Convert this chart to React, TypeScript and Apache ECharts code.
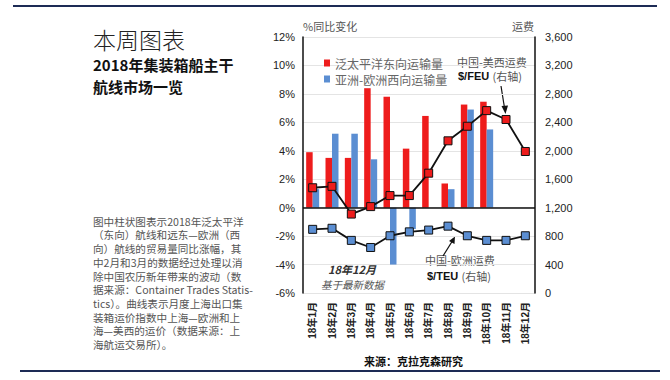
import React, { useEffect, useRef } from "react";
import * as echarts from "echarts";

const months = ["18年1月", "18年2月", "18年3月", "18年4月", "18年5月", "18年6月", "18年7月", "18年8月", "18年9月", "18年10月", "18年11月", "18年12月"];
const transPacific = [3.9, 3.5, 3.5, 8.4, 7.8, 4.15, 6.45, 1.7, 7.25, 7.45, null, null];
const asiaEurope = [1.3, 5.2, 5.2, 3.4, -4.0, -1.5, null, 1.3, 6.9, 5.5, null, null];
const feuRate = [1480, 1500, 1110, 1215, 1370, 1370, 1685, 2140, 2345, 2565, 2440, 1990];
const teuRate = [895, 910, 740, 640, 805, 860, 885, 940, 805, 740, 740, 805];

const leftTicks = { min: -6, max: 12, interval: 2 };
const rightTicks = { min: 0, max: 3600, interval: 400 };

const paragraph = [
  "图中柱状图表示2018年泛太平洋",
  "（东向）航线和远东—欧洲（西",
  "向）航线的贸易量同比涨幅，其",
  "中2月和3月的数据经过处理以消",
  "除中国农历新年带来的波动（数",
  "据来源：Container Trades Statis-",
  "tics）。曲线表示月度上海出口集",
  "装箱运价指数中上海—欧洲和上",
  "海—美西的运价（数据来源：上",
  "海航运交易所）。",
];

const RED = "#ee1c1c";
const BLUE = "#5b8ed2";
const SANS = "'Liberation Sans', Arial, 'Noto Sans CJK SC', sans-serif";
const CJK = "'Noto Sans CJK SC', sans-serif";

export default function App() {
  const ref = useRef<HTMLDivElement>(null);
  useEffect(() => {
    document.body.style.margin = "0";
    const chart = echarts.init(ref.current!, null, { renderer: "svg" });
    const paraTexts = paragraph.map((line, i) => ({
      type: "text",
      left: 93,
      top: 215 + i * 13.7,
      style: { text: line, fontSize: 10.6, lineHeight: 12.5, fill: "#555", fontFamily: CJK },
    }));
    const option: any = {
      animation: false,
      backgroundColor: "#ffffff",
      grid: { left: 303, right: 135, top: 37, bottom: 87 },
      legend: {
        orient: "vertical",
        left: 319,
        top: 52,
        itemWidth: 6,
        itemHeight: 7,
        itemGap: 4,
        icon: "rect",
        data: ["泛太平洋东向运输量", "亚洲-欧洲西向运输量"],
        textStyle: { fontSize: 12, color: "#666", fontFamily: CJK },
      },
      xAxis: {
        type: "category",
        data: months,
        axisLine: { show: false },
        axisTick: { show: false },
        axisLabel: {
          rotate: 90,
          fontSize: 10,
          fontWeight: "bold",
          color: "#222",
          fontFamily: SANS,
          margin: 9,
        },
      },
      yAxis: [
        {
          type: "value",
          ...leftTicks,
          axisLine: { show: true, lineStyle: { color: "#111", width: 1.5 } },
          axisTick: { show: false },
          axisLabel: { formatter: "{value}%", fontSize: 11, color: "#222", fontFamily: SANS, margin: 8 },
          splitLine: { show: true, lineStyle: { color: "#e4e4e4", width: 1 } },
        },
        {
          type: "value",
          ...rightTicks,
          axisLine: { show: true, lineStyle: { color: "#111", width: 1.5 } },
          axisTick: { show: false },
          axisLabel: {
            formatter: (v: number) => v.toLocaleString("en-US"),
            fontSize: 11,
            color: "#222",
            fontFamily: SANS,
            margin: 10,
          },
          splitLine: { show: false },
        },
      ],
      series: [
        {
          name: "泛太平洋东向运输量",
          type: "bar",
          yAxisIndex: 0,
          data: transPacific,
          barWidth: 6.5,
          barGap: "0%",
          itemStyle: { color: RED },
          markLine: {
            silent: true,
            symbol: "none",
            label: { show: false },
            lineStyle: { color: "#111", width: 1.5, type: "solid" },
            data: [{ yAxis: 0 }],
          },
        },
        {
          name: "亚洲-欧洲西向运输量",
          type: "bar",
          yAxisIndex: 0,
          data: asiaEurope,
          barWidth: 6.5,
          barGap: "0%",
          itemStyle: { color: BLUE },
        },
        {
          name: "中国-美西运费",
          type: "line",
          yAxisIndex: 1,
          data: feuRate,
          symbol: "rect",
          symbolSize: 8,
          z: 5,
          lineStyle: { color: "#111", width: 1.8 },
          itemStyle: { color: RED, borderColor: "#111", borderWidth: 1 },
        },
        {
          name: "中国-欧洲运费",
          type: "line",
          yAxisIndex: 1,
          data: teuRate,
          symbol: "rect",
          symbolSize: 8,
          z: 5,
          lineStyle: { color: "#111", width: 1.8 },
          itemStyle: { color: BLUE, borderColor: "#111", borderWidth: 1 },
        },
      ],
      graphic: [
        { type: "line", shape: { x1: 13, y1: 6, x2: 657, y2: 6 }, style: { stroke: "#1d2b55", lineWidth: 2 } },
        { type: "line", shape: { x1: 20, y1: 371, x2: 660, y2: 371 }, style: { stroke: "#1d2b55", lineWidth: 2 } },
        {
          type: "text", left: 93, top: 27,
          style: { text: "本周图表", fontSize: 23, fill: "#222", fontFamily: CJK, fontWeight: 300 },
        },
        {
          type: "text", left: 93, top: 56,
          style: { text: "2018年集装箱船主干", fontSize: 15, lineHeight: 17, fill: "#111", fontFamily: CJK, fontWeight: "bold" },
        },
        {
          type: "text", left: 93, top: 78,
          style: { text: "航线市场一览", fontSize: 15, lineHeight: 17, fill: "#111", fontFamily: CJK, fontWeight: "bold" },
        },
        ...paraTexts,
        {
          type: "text", left: 303, top: 20,
          style: { text: "%同比变化", fontSize: 11, fill: "#555", fontFamily: CJK },
        },
        {
          type: "text", left: 512, top: 20,
          style: { text: "运费", fontSize: 11, fill: "#555", fontFamily: CJK },
        },
        {
          type: "text", left: 457, top: 56,
          style: { text: "中国-美西运费", fontSize: 11, fill: "#555", fontFamily: CJK },
        },
        {
          type: "text", left: 458, top: 70,
          style: {
            text: "{a|$/FEU} {b|(右轴)}",
            rich: {
              a: { fontSize: 11, fontWeight: "bold", fill: "#111", fontFamily: SANS },
              b: { fontSize: 11, fill: "#555", fontFamily: CJK },
            },
          },
        },
        { type: "line", shape: { x1: 501, y1: 86, x2: 505, y2: 111 }, style: { stroke: "#111", lineWidth: 1.2 } },
        { type: "polygon", shape: { points: [[505.5, 114], [501.5, 106], [508, 105.5]] }, style: { fill: "#111" } },
        {
          type: "text", left: 425, top: 254,
          style: { text: "中国-欧洲运费", fontSize: 11, fill: "#555", fontFamily: CJK },
        },
        {
          type: "text", left: 427, top: 270,
          style: {
            text: "{a|$/TEU} {b|(右轴)}",
            rich: {
              a: { fontSize: 11, fontWeight: "bold", fill: "#111", fontFamily: SANS },
              b: { fontSize: 11, fill: "#555", fontFamily: CJK },
            },
          },
        },
        { type: "line", shape: { x1: 443, y1: 256, x2: 453, y2: 240 }, style: { stroke: "#111", lineWidth: 1.2 } },
        { type: "polygon", shape: { points: [[455, 236.5], [449, 241], [454.5, 244]] }, style: { fill: "#111" } },
        {
          type: "text", left: 328, top: 263,
          style: { text: "18年12月", fontSize: 11, fontStyle: "italic", fontWeight: "bold", fill: "#333", fontFamily: CJK },
        },
        {
          type: "text", left: 321, top: 279,
          style: { text: "基于最新数据", fontSize: 10.5, fontStyle: "italic", fill: "#555", fontFamily: CJK },
        },
        {
          type: "text", left: 364, top: 355,
          style: { text: "来源：克拉克森研究", fontSize: 11, fontWeight: "bold", fill: "#111", fontFamily: CJK },
        },
      ],
    };
    chart.setOption(option);
    return () => chart.dispose();
  }, []);
  return <div ref={ref} style={{ width: 670, height: 380 }} />;
}
